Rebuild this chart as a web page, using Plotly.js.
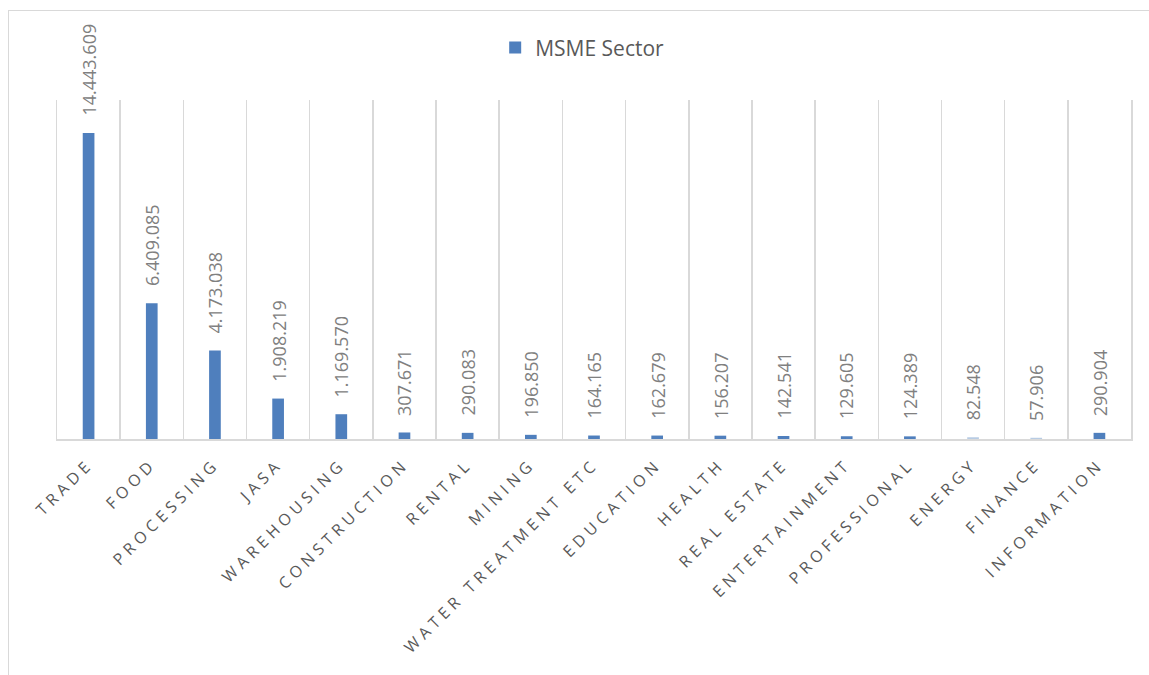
<!DOCTYPE html>
<html>
<head>
<meta charset="utf-8">
<script src="https://cdn.plot.ly/plotly-3.0.1.min.js"></script>
<style>
  html, body { margin: 0; padding: 0; background: #fff; }
  #wrap { position: relative; width: 1149px; height: 675px; overflow: hidden; }
  #chart { position: absolute; left: 0; top: 0; width: 1149px; height: 675px; }
  #frame { position: absolute; left: 8px; top: 10px; width: 1300px; height: 800px;
           border: 1.5px solid #d9d9d9; pointer-events: none; }
  .xtick text { letter-spacing: 4.6px; }
</style>
</head>
<body>
<div id="wrap">
  <div id="chart"></div>
  <div id="frame"></div>
</div>
<script>
const categories = ["TRADE", "FOOD", "PROCESSING", "JASA", "WAREHOUSING", "CONSTRUCTION",
  "RENTAL", "MINING", "WATER TREATMENT ETC", "EDUCATION", "HEALTH", "REAL ESTATE",
  "ENTERTAINMENT", "PROFESSIONAL", "ENERGY", "FINANCE", "INFORMATION"];
const values = [14443609, 6409085, 4173038, 1908219, 1169570, 307671,
  290083, 196850, 164165, 162679, 156207, 142541,
  129605, 124389, 82548, 57906, 290904];
const seriesName = "MSME Sector";
const lightCategories = ["ENERGY", "FINANCE"];

const darkBlue = "#4f7fbd";
const lightBlue = "#b8cce4";
const barColors = categories.map(c => lightCategories.includes(c) ? lightBlue : darkBlue);

function fmt(v) {
  return String(v).replace(/\B(?=(\d{3})+(?!\d))/g, ".");
}

const annotations = categories.map((c, i) => ({
  x: c, y: values[i], xref: "x", yref: "y",
  text: fmt(values[i]), showarrow: false, textangle: -90,
  xanchor: "center", yanchor: "bottom", yshift: 15,
  font: {family: "Open Sans", size: 18, color: "#808080"}
}));

const trace = {
  type: "bar", x: categories, y: values, name: seriesName,
  marker: {color: barColors, line: {width: 0}},
  width: 0.185, showlegend: true
};

const layout = {
  width: 1149, height: 675,
  margin: {l: 57, r: 18, t: 100, b: 236},
  paper_bgcolor: "#ffffff", plot_bgcolor: "#ffffff",
  showlegend: true,
  legend: {orientation: "h", x: 0.489, xanchor: "center", y: 0.929, yref: "container", yanchor: "middle",
           font: {family: "Open Sans", size: 21, color: "#595959"}, itemwidth: 30,
           bgcolor: "rgba(0,0,0,0)"},
  xaxis: {
    type: "category", tickangle: -45, showgrid: true, gridcolor: "#d9d9d9", gridwidth: 1.5,
    tickson: "boundaries", ticks: "", showline: true, linecolor: "#d9d9d9", linewidth: 1.5,
    tickfont: {family: "Open Sans", size: 16, color: "#595959"}, zeroline: false,
    ticklabelstandoff: 8,
    range: [-0.5, 16.5], fixedrange: true
  },
  yaxis: {
    range: [0, 16000000], showticklabels: false, showgrid: false, zeroline: false,
    showline: true, mirror: true, linecolor: "#d9d9d9", linewidth: 1.5, ticks: "", fixedrange: true
  },
  annotations: annotations
};

Plotly.newPlot("chart", [trace], layout, {displayModeBar: false, staticPlot: true});
</script>
</body>
</html>
